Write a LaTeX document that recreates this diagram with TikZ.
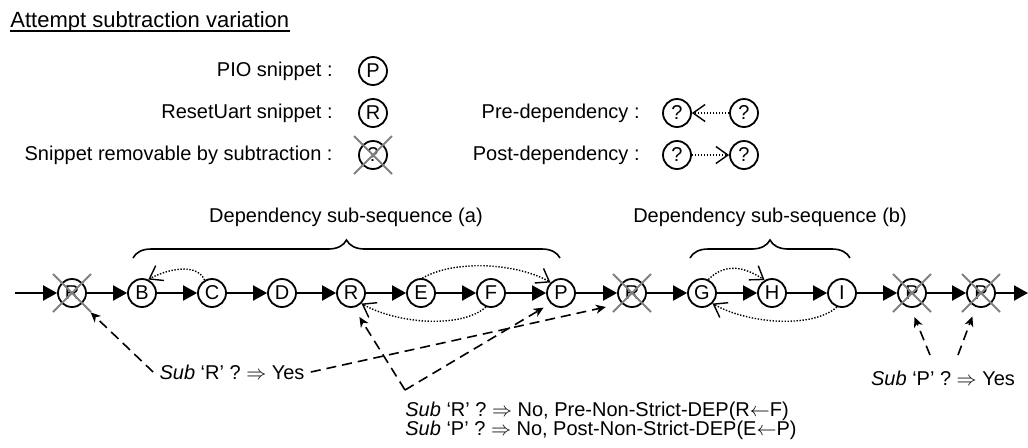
\documentclass[tikz,border=0pt]{standalone}
\usepackage{fontspec}
\setmainfont{Liberation Sans}
\usetikzlibrary{arrows.meta,decorations.pathreplacing,calc}
\begin{document}
\begin{tikzpicture}[x=0.5pt,y=-0.5pt,
  every node/.style={font=\fontsize{10}{12}\selectfont},
  snip/.style={circle,draw,line width=0.9pt,minimum size=14pt,inner sep=0pt},
  lbl/.style={inner sep=0pt},
  flow/.style={line width=1pt,-{Triangle[length=7pt,width=7.5pt]}},
  dep/.style={dash pattern=on 0.7pt off 0.8pt,line width=0.7pt,-{Straight Barb[length=6pt,width=8.5pt]}},
  ask/.style={dash pattern=on 5pt off 3pt,line width=0.8pt,-{Stealth[length=5pt,width=4.5pt,inset=1.5pt]}},
  cross/.style={draw=black!50,line width=1pt},
  grp/.style={decorate,decoration={brace,amplitude=9pt},line width=0.8pt}]
\useasboundingbox (0,0) rectangle (1028,447);

% title
\node[lbl,anchor=base west,font=\fontsize{11}{13}\selectfont] (title) at (10,27) {Attempt subtraction variation};
\draw[line width=0.7pt] ($(title.base west)+(0,4)$) -- ($(title.base east)+(0,4)$);

% legend
\node[lbl,anchor=east] (kp) at (333,71) {PIO snippet :};
\node[snip] (lp) at (373,71) {P};
\node[lbl,anchor=east] (kr) at (333,113) {ResetUart snippet :};
\node[snip] (lr) at (373,113) {R};
\node[lbl,anchor=east] (kx) at (333,155) {Snippet removable by subtraction :};
\node[snip] (lx) at (373,155) {?};
\node[lbl,anchor=east] (kpre) at (640,113) {Pre-dependency :};
\node[snip] (pre1) at (677,113) {?};
\node[snip] (pre2) at (744,113) {?};
\draw[dep] (pre2) -- (pre1);
\node[lbl,anchor=east] (kpost) at (640,155) {Post-dependency :};
\node[snip] (post1) at (677,155) {?};
\node[snip] (post2) at (744,155) {?};
\draw[dep] (post1) -- (post2);

% snippet sequence
\coordinate (in) at (15,293);
\coordinate (out) at (1028,293);
\node[snip] (xr1) at (72,293) {R};
\node[snip] (b) at (142,293) {B};
\node[snip] (c) at (212,293) {C};
\node[snip] (d) at (282,293) {D};
\node[snip] (r) at (351,293) {R};
\node[snip] (e) at (421,293) {E};
\node[snip] (f) at (491,293) {F};
\node[snip] (p) at (561,293) {P};
\node[snip] (xr2) at (632,293) {R};
\node[snip] (g) at (702,293) {G};
\node[snip] (h) at (772,293) {H};
\node[snip] (i) at (842,293) {I};
\node[snip] (xp1) at (912,293) {P};
\node[snip] (xp2) at (981,293) {P};
\draw[flow] (in) -- (xr1);
\foreach \u/\v in {xr1/b,b/c,c/d,d/r,r/e,e/f,f/p,p/xr2,xr2/g,g/h,h/i,i/xp1,xp1/xp2}
  \draw[flow] (\u) -- (\v);
\draw[flow] (xp2) -- (out);

% removable snippets
\foreach \n in {xr1,xr2,xp1,xp2,lx}
  \draw[cross] (\n.center) +(-19,-19) -- +(19,19) +(-19,19) -- +(19,-19);

% dependency sub-sequences
\draw[grp] (133,258) -- (560,258);
\node (grpa) at (346,217) {Dependency sub-sequence (a)};
\draw[grp] (690,258) -- (850,258);
\node (grpb) at (770,217) {Dependency sub-sequence (b)};

% dependencies
\draw[dep] (c.120) .. controls +(-8,-18) and +(18,-10) .. (b.65);
\draw[dep] (e.85) .. controls +(35,-20) and +(-30,-18) .. (p.135);
\draw[dep] (f.250) .. controls +(-25,22) and +(35,20) .. (r.-45);
\draw[dep] (g.65) .. controls +(18,-18) and +(-18,-12) .. (h.120);
\draw[dep] (i.250) .. controls +(-25,22) and +(35,20) .. (g.-45);

% subtraction attempts
\node[lbl,inner sep=3pt] (yesr) at (232,372) {\textit{Sub} ‘R’ ? $\Rightarrow$ Yes};
\draw[ask,shorten >=6pt] (yesr.west) -- (xr1.-48);
\draw[ask,shorten >=8pt] (yesr.east) -- (xr2.225);

\coordinate (vc) at (405,390);
\draw[ask,shorten >=5.5pt] (vc) -- (r.-80);
\draw[ask,shorten >=4pt] (vc) -- (p.225);
\node[lbl,anchor=west] (nor) at (405,411) {\textit{Sub} ‘R’ ? $\Rightarrow$ No, Pre-Non-Strict-DEP(R$\leftarrow$F)};
\node[lbl,anchor=west] (nop) at (405,430) {\textit{Sub} ‘P’ ? $\Rightarrow$ No, Post-Non-Strict-DEP(E$\leftarrow$P)};

\node[lbl] (yesp) at (943,378) {\textit{Sub} ‘P’ ? $\Rightarrow$ Yes};
\coordinate (tp1) at (930,355);
\coordinate (tp2) at (958,355);
\draw[ask,shorten >=5pt] (tp1) -- (xp1.-95);
\draw[ask,shorten >=5pt] (tp2) -- (xp2.-110);
\end{tikzpicture}
\end{document}
